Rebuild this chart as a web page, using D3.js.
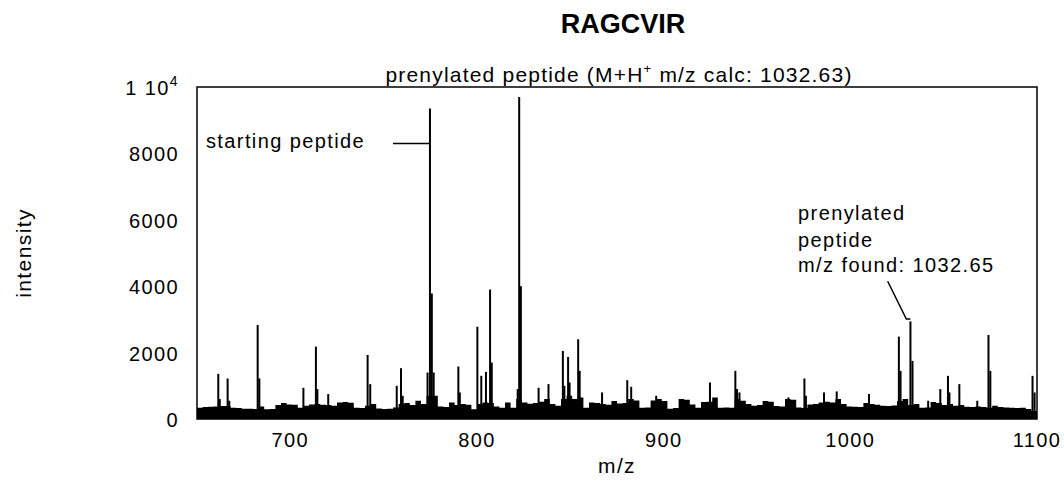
<!DOCTYPE html>
<html>
<head>
<meta charset="utf-8">
<script src="https://cdn.jsdelivr.net/npm/d3@7"></script>
<style>
  html, body { margin: 0; padding: 0; background: #fff; }
  svg text { font-family: "Liberation Sans", Arial, sans-serif; fill: #000; }
</style>
</head>
<body>
<svg id="chart" width="1064" height="481"></svg>
<script>
// ---------- data ----------
const title = "RAGCVIR";
const xLabel = "m/z";
const yLabel = "intensity";
const xTicks = [700, 800, 900, 1000, 1100];
const yTicks = [0, 2000, 4000, 6000, 8000, 10000];
const yTickLabels = ["0", "2000", "4000", "6000", "8000", "1 10|4"];

// baseline noise envelope, sampled every 3 m/z from 650 to 1100
const noiseStart = 650;
const noiseStep = 3;
const noiseLevels = [
  340, 360, 370, 380, 390, 390, 340, 330, 310, 310,
  300, 380, 290, 300, 420, 480, 440, 430, 340, 400,
  440, 450, 430, 420, 400, 500, 510, 490, 340, 330,
  400, 450, 320, 300, 310, 350, 450, 480, 420, 550,
  450, 700, 700, 380, 360, 500, 420, 450, 430, 290,
  450, 500, 480, 380, 340, 500, 340, 600, 500, 460,
  480, 520, 600, 450, 400, 600, 700, 600, 650, 340,
  500, 480, 450, 430, 540, 470, 480, 600, 560, 340,
  350, 560, 600, 540, 310, 330, 600, 580, 440, 340,
  510, 520, 650, 340, 350, 340, 600, 550, 450, 400,
  420, 540, 520, 390, 380, 600, 580, 350, 330, 440,
  450, 500, 520, 500, 600, 450, 380, 370, 360, 480,
  450, 430, 400, 390, 410, 540, 600, 420, 450, 340,
  350, 510, 480, 420, 450, 400, 420, 370, 360, 380,
  360, 340, 400, 360, 350, 340, 330, 340, 300, 240,
  500
];

// spectral peaks [m/z, intensity]
const peakMz = [
  661.4, 662.2, 666.4, 667.3, 682.5, 683.4, 707.0, 713.7, 714.5, 720.3,
  741.4, 742.8, 757.0, 759.3, 760.2, 773.5, 774.8, 775.8, 776.8, 790.0,
  790.8, 800.2, 802.3, 804.8, 807.0, 807.9, 821.8, 822.6, 823.5, 833.0,
  838.3, 846.0, 846.8, 848.8, 849.6, 854.2, 855.0, 867.0, 880.5, 882.6,
  896.0, 924.8, 938.4, 939.3, 940.6, 966.8, 975.4, 976.2, 985.9, 992.7,
  1010.0, 1026.0, 1026.9, 1032.2, 1033.3, 1041.7, 1048.2, 1052.3, 1053.1, 1058.4,
  1068.0, 1074.0, 1075.0, 1097.6, 1098.7
];
const peakIntensity = [
  1360, 600, 1220, 550, 2830, 1220, 940, 2180, 900, 750,
  1930, 1050, 1000, 1530, 700, 1400, 9350, 3780, 1400, 1580,
  800, 2780, 1300, 1420, 3900, 1700, 900, 9700, 4000, 940,
  1050, 2050, 1000, 1870, 1100, 2400, 1450, 800, 1170, 970,
  700, 1100, 1450, 900, 800, 650, 1220, 700, 800, 830,
  750, 2480, 1450, 2940, 1750, 550, 900, 1300, 800, 1050,
  550, 2530, 1450, 1300, 800
];

// annotations (data coordinates)
const subtitleParts = ["prenylated peptide (M+H", "+", " m/z calc: 1032.63)"];
const startLabel = "starting peptide";
const startLabelPos = [654.8, 8300];
const startLeader = [[755, 8300], [774.3, 8300]];
const prenylLines = ["prenylated", "peptide", "m/z found: 1032.65"];
const prenylPos = [972, [6000, 5190, 4440]];
const prenylLeader = [[1020, 4150], [1030, 3010], [1032.2, 3010]];

// ---------- layout ----------
const svg = d3.select("#chart");
const margin = { left: 197, right: 1064 - 1037, top: 87, bottom: 481 - 419 };
const W = 1064, H = 481;
const LS = 1.4; // letter spacing of the original's text

const x = d3.scaleLinear().domain([650, 1100]).range([margin.left, W - margin.right]);
const y = d3.scaleLinear().domain([0, 10000]).range([H - margin.bottom, margin.top]);

// noise area
const noise = noiseLevels.map((v, i) => [noiseStart + i * noiseStep, v]);
const area = d3.area()
  .x(d => x(d[0]))
  .y0(y(0))
  .y1(d => y(d[1]))
  .curve(d3.curveStepAfter);
svg.append("path").datum(noise).attr("d", area).attr("fill", "#000");

// peaks
const peaks = peakMz.map((m, i) => [m, peakIntensity[i]]);
svg.append("g").selectAll("line").data(peaks).join("line")
  .attr("x1", d => x(d[0])).attr("x2", d => x(d[0]))
  .attr("y1", y(0)).attr("y2", d => y(d[1]))
  .attr("stroke", "#000").attr("stroke-width", 2);

// frame
svg.append("rect")
  .attr("x", x(650)).attr("y", y(10000))
  .attr("width", x(1100) - x(650)).attr("height", y(0) - y(10000))
  .attr("fill", "none").attr("stroke", "#000").attr("stroke-width", 1.5);

// x axis labels
svg.append("g").selectAll("text").data(xTicks).join("text")
  .attr("x", d => x(d)).attr("y", y(0) + 28)
  .attr("text-anchor", "middle").attr("font-size", 20).attr("letter-spacing", LS)
  .text(d => d);

// y axis labels
const yl = svg.append("g").selectAll("text").data(yTicks).join("text")
  .attr("x", margin.left - 18).attr("y", d => y(d) + 8)
  .attr("text-anchor", "end").attr("font-size", 20).attr("letter-spacing", LS);
yl.each(function(d, i) {
  const parts = yTickLabels[i].split("|");
  const t = d3.select(this);
  t.append("tspan").text(parts[0]);
  if (parts[1]) {
    t.append("tspan").attr("dy", -9).attr("font-size", 14).text(parts[1]);
  }
});

// axis titles
svg.append("text").attr("x", (x(650) + x(1100)) / 2).attr("y", 473)
  .attr("text-anchor", "middle").attr("font-size", 21).attr("letter-spacing", LS).text(xLabel);
svg.append("text")
  .attr("transform", `translate(31, ${(y(0) + y(10000)) / 2}) rotate(-90)`)
  .attr("text-anchor", "middle").attr("font-size", 21).attr("letter-spacing", LS).text(yLabel);

// title
svg.append("text").attr("x", 623).attr("y", 33)
  .attr("text-anchor", "middle").attr("font-size", 27).attr("font-weight", "bold").text(title);

// subtitle
const sub = svg.append("text").attr("x", 619).attr("y", 82)
  .attr("text-anchor", "middle").attr("font-size", 21).attr("letter-spacing", 1.2);
sub.append("tspan").text(subtitleParts[0]);
sub.append("tspan").attr("dy", -9).attr("font-size", 13).text(subtitleParts[1]);
sub.append("tspan").attr("dy", 9).text(subtitleParts[2]);

// starting peptide annotation
svg.append("text").attr("x", x(startLabelPos[0])).attr("y", y(startLabelPos[1]) + 5)
  .attr("font-size", 20).attr("letter-spacing", LS).text(startLabel);
svg.append("path")
  .attr("d", d3.line().x(d => x(d[0])).y(d => y(d[1]))(startLeader))
  .attr("fill", "none").attr("stroke", "#000").attr("stroke-width", 1.5);

// prenylated peptide annotation
svg.append("g").selectAll("text").data(prenylLines).join("text")
  .attr("x", x(prenylPos[0])).attr("y", (d, i) => y(prenylPos[1][i]))
  .attr("font-size", 20).attr("letter-spacing", LS).text(d => d);
svg.append("path")
  .attr("d", d3.line().x(d => x(d[0])).y(d => y(d[1]))(prenylLeader))
  .attr("fill", "none").attr("stroke", "#000").attr("stroke-width", 1.5);
</script>
</body>
</html>
